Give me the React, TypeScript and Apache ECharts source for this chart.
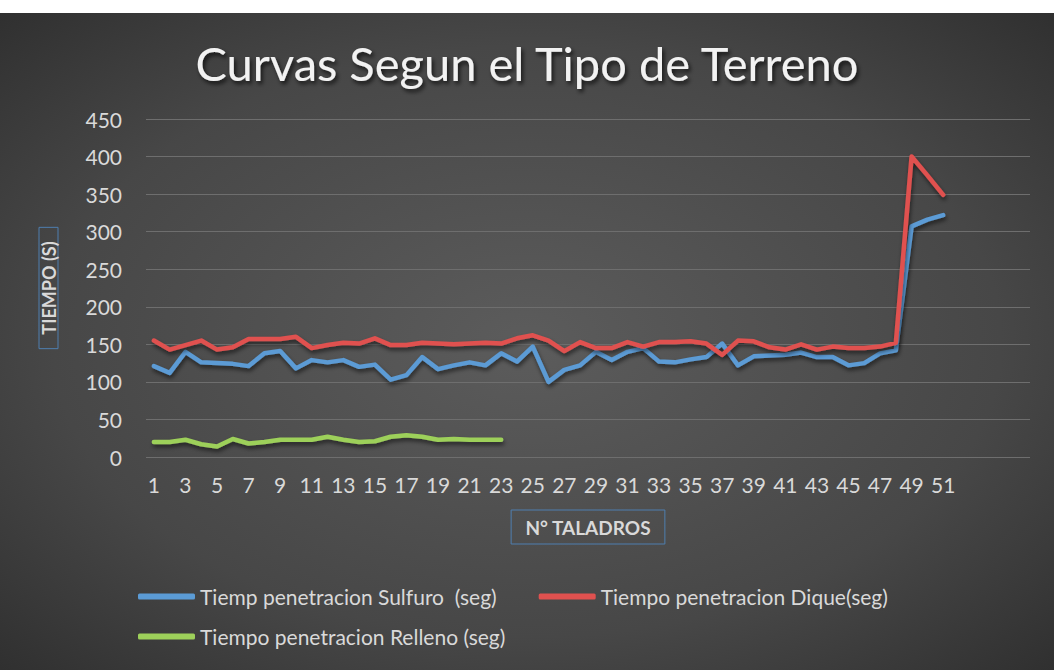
import React, { useEffect, useRef } from "react";
import * as echarts from "echarts";

const xLabels = [
  "1","2","3","4","5","6","7","8","9","10","11","12","13","14","15","16","17","18","19","20",
  "21","22","23","24","25","26","27","28","29","30","31","32","33","34","35","36","37","38","39","40",
  "41","42","43","44","45","46","47","48","49","50","51","","","","","",
];

const sulfuro = [
  121, 112, 140, 126, 125, 124, 121, 138, 141, 118, 129, 126, 129, 120, 123, 103, 109, 133, 117, 122,
  126, 122, 138, 127, 147, 100, 116, 122, 140, 129, 140, 145, 127, 126, 130, 133, 151, 122, 134, 135,
  136, 139, 133, 133, 122, 125, 138, 142, 307, 316, 322,
];

const dique = [
  155, 143, 149, 155, 143, 146, 157, 157, 157, 160, 145, 149, 152, 151, 158, 149, 149, 152, 151, 150,
  151, 152, 151, 158, 162, 155, 141, 153, 145, 145, 153, 147, 153, 153, 154, 151, 136, 155, 154, 146,
  143, 150, 143, 147, 145, 145, 147, 152, 400, 375, 349,
];

const relleno = [
  20, 20, 23, 17, 14, 24, 18, 20, 23, 23, 23, 27, 23, 20, 21, 27, 29, 27, 23, 24, 23, 23, 23,
];

const seriesNames = [
  "Tiemp penetracion Sulfuro  (seg)",
  "Tiempo penetracion Dique(seg)",
  "Tiempo penetracion Relleno (seg)",
];

const yTicks = { min: 0, max: 450, interval: 50 };

const FONT = "Lato, 'Noto Sans', sans-serif";
const TXT = "#d9d9d9";

export default function App() {
  const ref = useRef<HTMLDivElement>(null);
  useEffect(() => {
    if (!ref.current) return;
    const chart = echarts.init(ref.current, undefined, { renderer: "svg" });
    const shadow = {
      shadowColor: "rgba(0,0,0,0.55)",
      shadowBlur: 4,
      shadowOffsetX: 1,
      shadowOffsetY: 3,
    };
    const mk = (name: string, data: number[], color: string) => ({
      name,
      type: "line",
      data,
      symbol: "none",
      showSymbol: false,
      itemStyle: { color },
      lineStyle: { color, width: 4.5, join: "round", cap: "round", ...shadow },
      z: 3,
    });
    const legendText = { color: TXT, fontFamily: FONT, fontSize: 21 };
    chart.setOption({
      animation: false,
      textStyle: { fontFamily: FONT },
      graphic: [
        {
          type: "rect",
          z: -100,
          silent: true,
          shape: { x: 0, y: 13, width: 1054, height: 657 },
          style: {
            fill: new echarts.graphic.RadialGradient(0.5, 0.5, 0.75, [
              { offset: 0, color: "#5c5c5c" },
              { offset: 0.6, color: "#474747" },
              { offset: 1, color: "#2c2c2c" },
            ]),
          },
        },
      ],
      title: {
        text: "Curvas Segun el Tipo de Terreno",
        left: "center",
        top: 34,
        textStyle: {
          color: "#f2f2f2",
          fontFamily: FONT,
          fontSize: 47,
          fontWeight: "normal",
          textShadowColor: "rgba(0,0,0,0.7)",
          textShadowBlur: 4,
          textShadowOffsetX: 2,
          textShadowOffsetY: 3,
        },
      },
      grid: { left: 146, right: 24, top: 119, bottom: 213, containLabel: false },
      xAxis: {
        type: "category",
        data: xLabels,
        boundaryGap: true,
        name: "N° TALADROS",
        nameLocation: "middle",
        nameGap: 53,
        nameTextStyle: {
          color: TXT,
          fontFamily: FONT,
          fontSize: 19,
          fontWeight: "bold",
          borderColor: "#4f7fb0",
          borderWidth: 1,
          padding: [8, 14, 7, 14],
        },
        axisLine: { show: false },
        axisTick: { show: false },
        axisLabel: {
          interval: 1,
          color: TXT,
          fontFamily: FONT,
          fontSize: 21,
          margin: 17,
        },
        splitLine: { show: false },
      },
      yAxis: {
        type: "value",
        min: yTicks.min,
        max: yTicks.max,
        interval: yTicks.interval,
        name: "TIEMPO (S)",
        nameLocation: "middle",
        nameGap: 88,
        nameRotate: 90,
        nameTextStyle: {
          color: TXT,
          fontFamily: FONT,
          fontSize: 18,
          fontWeight: "bold",
          borderColor: "#4f7fb0",
          borderWidth: 1,
          padding: [1, 14, 0, 14],
        },
        axisLine: { show: false },
        axisTick: { show: false },
        axisLabel: { color: TXT, fontFamily: FONT, fontSize: 21, margin: 24 },
        splitLine: { lineStyle: { color: "#6e6e6e", width: 1 } },
      },
      legend: [
        {
          data: [seriesNames[0], seriesNames[1]],
          left: 133,
          top: 581,
          icon: "roundRect",
          itemWidth: 57,
          itemHeight: 6,
          itemGap: 42,
          textStyle: legendText,
        },
        {
          data: [seriesNames[2]],
          left: 133,
          top: 621,
          icon: "roundRect",
          itemWidth: 57,
          itemHeight: 6,
          textStyle: legendText,
        },
      ],
      series: [
        mk(seriesNames[0], sulfuro, "#5b9bd5"),
        mk(seriesNames[1], dique, "#e0514f"),
        mk(seriesNames[2], relleno, "#9dd05a"),
      ],
    });
    return () => chart.dispose();
  }, []);
  return (
    <div style={{ position: "absolute", left: 0, top: 0, width: 1054, height: 670, background: "#fff" }}>
      <div ref={ref} style={{ width: 1054, height: 670 }} />
    </div>
  );
}
